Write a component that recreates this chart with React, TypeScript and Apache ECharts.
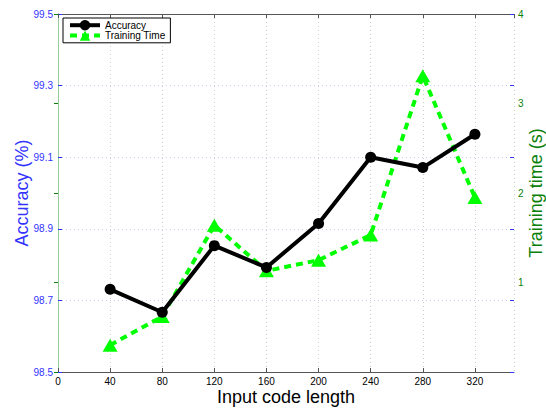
import React, { useEffect, useRef } from "react";
import * as echarts from "echarts";

const codeLengths = [40, 80, 120, 160, 200, 240, 280, 320];
const accuracy = [98.731, 98.667, 98.853, 98.792, 98.915, 99.1, 99.071, 99.164];
const trainingTime = [0.3, 0.62, 1.64, 1.13, 1.25, 1.53, 3.31, 1.95];

const FONT = "'Liberation Sans', Arial, Helvetica, sans-serif";
const BLUE = "#3333ff";
const GREEN = "#0a800a";

export default function App() {
  const ref = useRef<HTMLDivElement>(null);
  useEffect(() => {
    if (!ref.current) return;
    const chart = echarts.init(ref.current, null, { renderer: "svg" });
    const accData = codeLengths.map((x, i) => [x, accuracy[i]]);
    const timeData = codeLengths.map((x, i) => [x, trainingTime[i]]);
    chart.setOption({
      animation: false,
      backgroundColor: "#ffffff",
      textStyle: { fontFamily: FONT },
      grid: { left: 58, right: 32, top: 14, bottom: 36, containLabel: false, outerBoundsMode: "none" },
      legend: {
        orient: "vertical",
        left: 63,
        top: 18,
        padding: [2, 5, 2, 5],
        itemWidth: 30,
        itemHeight: 13,
        itemGap: 0,
        backgroundColor: "#ffffff",
        borderColor: "#000000",
        borderWidth: 1,
        borderRadius: 0,
        lineStyle: { width: 4 },
        textStyle: { fontSize: 10, color: "#000", fontFamily: FONT },
        data: ["Accuracy", "Training Time"],
      },
      xAxis: [
        {
          type: "value",
          min: 0,
          max: 350,
          interval: 40,
          position: "bottom",
          name: "Input code length",
          nameLocation: "middle",
          nameGap: 16,
          nameMoveOverlap: false,
          nameTextStyle: { fontSize: 18, color: "#000", fontFamily: FONT },
          axisLine: { show: true, lineStyle: { color: "#555555", width: 1 } },
          axisTick: { show: true, inside: true, length: 4, lineStyle: { color: "#555555" } },
          axisLabel: { fontSize: 10, color: "#000", margin: 4, showMaxLabel: false, fontFamily: FONT },
          splitLine: { show: true, lineStyle: { color: "#cccccc", type: [1, 3], width: 1 } },
        },
        {
          type: "value",
          min: 0,
          max: 350,
          interval: 40,
          position: "top",
          axisLine: { show: true, lineStyle: { color: "#555555", width: 1 } },
          axisTick: { show: true, inside: true, length: 4, lineStyle: { color: "#555555" } },
          axisLabel: { show: false },
          splitLine: { show: false },
        },
      ],
      yAxis: [
        {
          type: "value",
          min: 98.5,
          max: 99.5,
          interval: 0.2,
          position: "left",
          name: "Accuracy (%)",
          nameLocation: "middle",
          nameGap: 27,
          nameMoveOverlap: false,
          nameTextStyle: { fontSize: 18, color: BLUE, fontFamily: FONT },
          axisLine: { show: true, lineStyle: { color: BLUE, width: 1 } },
          axisTick: { show: true, inside: true, length: 4, lineStyle: { color: BLUE } },
          axisLabel: {
            fontSize: 10,
            color: BLUE,
            margin: 5,
            fontFamily: FONT,
            formatter: (v: number) => v.toFixed(1),
          },
          splitLine: { show: true, lineStyle: { color: "#c8c8f4", type: [1, 3], width: 1 } },
        },
        {
          type: "value",
          min: 0,
          max: 4,
          interval: 1,
          position: "right",
          name: "Training time (s)",
          nameLocation: "middle",
          nameGap: 13,
          nameRotate: 90,
          nameMoveOverlap: false,
          nameTextStyle: { fontSize: 18, color: GREEN, fontFamily: FONT },
          axisLine: { show: true, lineStyle: { color: "#99cc99", width: 1 } },
          axisTick: { show: true, inside: true, length: 4, lineStyle: { color: GREEN } },
          axisLabel: {
            fontSize: 10,
            color: GREEN,
            margin: 4,
            fontFamily: FONT,
            formatter: (v: number) => (v === 0 ? "" : String(v)),
          },
          splitLine: { show: false },
        },
        {
          type: "value",
          min: 98.5,
          max: 99.5,
          interval: 0.2,
          position: "right",
          axisLine: { show: false },
          axisTick: { show: true, inside: true, length: 4, lineStyle: { color: BLUE } },
          axisLabel: { show: false },
          splitLine: { show: false },
        },
      ],
      series: [
        {
          name: "Accuracy",
          type: "line",
          xAxisIndex: 0,
          yAxisIndex: 0,
          data: accData,
          symbol: "circle",
          symbolSize: 11,
          itemStyle: { color: "#000000" },
          lineStyle: { color: "#000000", width: 4 },
          z: 3,
        },
        {
          name: "Training Time",
          type: "line",
          xAxisIndex: 0,
          yAxisIndex: 1,
          data: timeData,
          symbol: "triangle",
          symbolSize: [15, 13],
          itemStyle: { color: "#00ff00" },
          lineStyle: { color: "#00ff00", width: 4, type: [7, 5] },
          z: 2,
        },
      ],
    });
    return () => chart.dispose();
  }, []);
  return <div ref={ref} style={{ width: 546, height: 408, position: "absolute", left: 0, top: 0 }} />;
}
